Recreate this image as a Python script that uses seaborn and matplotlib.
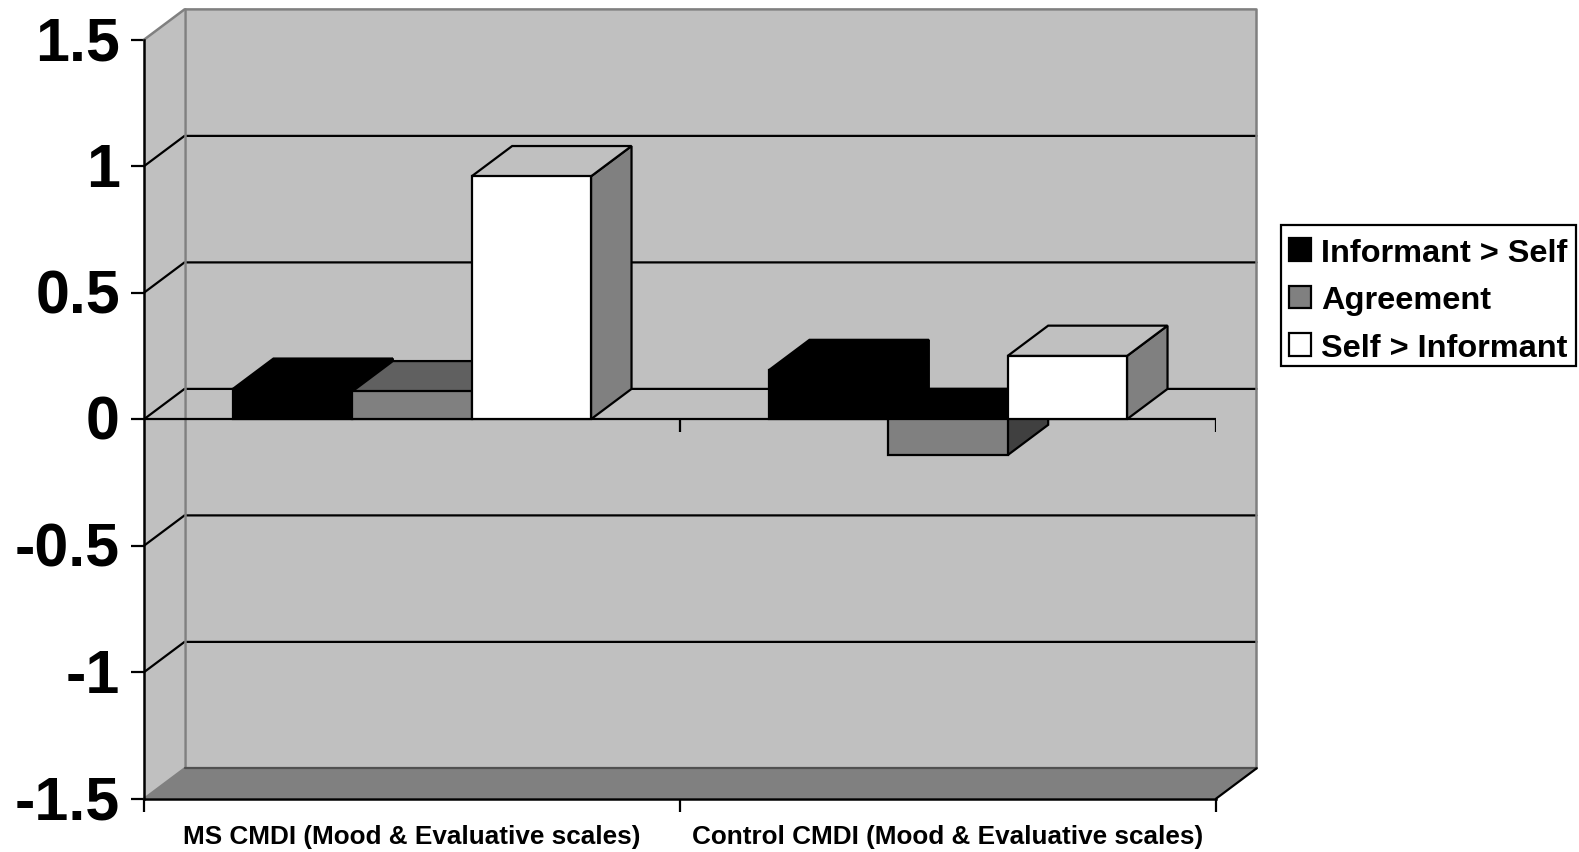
import pandas as pd
import matplotlib
matplotlib.use('Agg')
import matplotlib.pyplot as plt
import matplotlib.patches as mpatches
import matplotlib.transforms as mtransforms
import seaborn as sns

# Values
groups = ['MS CMDI (Mood & Evaluative scales)', 'Control CMDI (Mood & Evaluative scales)']
series = ['Informant > Self', 'Agreement', 'Self > Informant']
informant_self = [0.12, 0.194]
agreement = [0.11, -0.142]
self_informant = [0.96, 0.25]
y_ticks = [1.5, 1, 0.5, 0, -0.5, -1, -1.5]
y_tick_labels = ['1.5', '1', '0.5', '0', '-0.5', '-1', '-1.5']

data = pd.DataFrame({
    'group': groups * 3,
    'series': [s for s in series for _ in groups],
    'value': informant_self + agreement + self_informant,
})

# Style
sns.set_theme(style='white')
plt.rcParams['font.family'] = ['Liberation Sans', 'DejaVu Sans']
plt.rcParams['font.weight'] = 'bold'

WALL = '#c0c0c0'
FLOOR = '#808080'
LW = 1.6
front_colors = ['#000000', '#808080', '#ffffff']
top_colors = ['#000000', '#606060', '#c0c0c0']
side_colors = ['#000000', '#404040', '#808080']

W, H = 1579, 853
fig = plt.figure(figsize=(W / 100, H / 100), dpi=100, facecolor='white')
ax = fig.add_axes([144 / W, 1 - 799.7 / H, (1216 - 144) / W, (799.7 - 40.7) / H])
ax.patch.set_visible(False)

sns.barplot(data=data, x='group', y='value', hue='series', order=groups, hue_order=series,
            palette=front_colors, saturation=1, width=0.668, gap=0, edgecolor='black',
            linewidth=LW, ax=ax, errorbar=None)

x0, x1 = -0.5, 1.5
y0, y1 = -1.5, 1.5
ax.set_xlim(x0, x1)
ax.set_ylim(y0, y1)

# Depth of the fake 3D box, in data units
dx = 40.5 / 536
dy = 30.3 / 253

# Walls and floor
ax.fill([x0 + dx, x1 + dx, x1 + dx, x0 + dx], [y0 + dy, y0 + dy, y1 + dy, y1 + dy],
        color=WALL, lw=0, clip_on=False, zorder=0)
ax.fill([x0, x0 + dx, x0 + dx, x0], [y0, y0 + dy, y1 + dy, y1],
        color=WALL, lw=0, clip_on=False, zorder=0)
ax.fill([x0, x1, x1 + dx, x0 + dx], [y0, y0, y0 + dy, y0 + dy],
        color=FLOOR, lw=0, clip_on=False, zorder=0.5)

# Grid lines on the back and side walls
for y in y_ticks[1:-1]:
    ax.plot([x0, x0 + dx, x1 + dx], [y, y + dy, y + dy], color='black', lw=LW,
            clip_on=False, zorder=1)

# Wall edges
ax.plot([x0, x0 + dx, x1 + dx, x1 + dx], [y1, y1 + dy, y1 + dy, y0 + dy], color=FLOOR,
        lw=LW + 0.2, clip_on=False, zorder=1.2)
ax.plot([x0 + dx, x0 + dx], [y1 + dy, y0 + dy], color=FLOOR, lw=LW + 0.2, clip_on=False, zorder=1.2)
ax.plot([x0, x0 + dx], [y0, y0 + dy], color=FLOOR, lw=LW, clip_on=False, zorder=1.2)
ax.plot([x0 + dx, x1 + dx], [y0 + dy, y0 + dy], color='#505050', lw=LW, clip_on=False, zorder=1.2)
ax.plot([x1, x1 + dx], [y0, y0 + dy], color='black', lw=LW, clip_on=False, zorder=1.2)

# Zero line with its separators
ax.axhline(0, color='black', lw=LW, zorder=3)
ax.vlines([0.5, 1.5], -13 / 253, 0, color='black', lw=LW, zorder=3)

# Top and side faces of each bar, taken from the bars seaborn drew
z = 5
for s, container in enumerate(ax.containers):
    for bar in container:
        left, right = bar.get_x(), bar.get_x() + bar.get_width()
        val = bar.get_y() + bar.get_height()
        top = max(val, 0)
        roof = top_colors[s] if val >= 0 else '#000000'
        side_y = [val, val + dy, dy, 0] if val < 0 else [0, dy, top + dy, top]
        ax.fill([right, right + dx, right + dx, right], side_y,
                facecolor=side_colors[s], edgecolor='black', lw=LW, clip_on=False, zorder=z)
        ax.fill([left, right, right + dx, left + dx], [top, top, top + dy, top + dy],
                facecolor=roof, edgecolor='black', lw=LW, clip_on=False, zorder=z + 1)
        bar.set_zorder(z + 2)
        z += 3

# Axes and ticks
for name in ['top', 'right']:
    ax.spines[name].set_visible(False)
for name in ['left', 'bottom']:
    ax.spines[name].set_visible(True)
    ax.spines[name].set_color('black')
    ax.spines[name].set_linewidth(LW + 0.2)
ax.set_xlabel('')
ax.set_ylabel('')
ax.set_yticks(y_ticks)
ax.set_yticklabels(y_tick_labels, fontsize=43.8, fontweight='bold', color='black')
ax.tick_params(axis='y', left=True, length=9.4, width=LW, pad=7.9, color='black')
# Raise the big tick labels a little, they sit close to their ticks in the original
raise_labels = mtransforms.ScaledTranslation(0, 2.5 / 100, fig.dpi_scale_trans)
for label in ax.get_yticklabels():
    label.set_transform(label.get_transform() + raise_labels)
ax.set_xticks([0, 1])
ax.set_xticklabels(groups, fontsize=18.85, fontweight='bold', color='black')
ax.tick_params(axis='x', which='major', bottom=False, length=0, pad=18.2)
ax.set_xticks([-0.5, 0.5, 1.5], minor=True)
ax.tick_params(axis='x', which='minor', bottom=True, length=9.4, width=LW, color='black')

# Legend, its box drawn apart so the rows can sit low in it as in the original
handles, labels = ax.get_legend_handles_labels()
leg = ax.legend(handles, labels, loc='center', bbox_to_anchor=(1428.5 / W, 1 - 301.5 / H),
                bbox_transform=fig.transFigure, fontsize=23.4, frameon=False,
                handlelength=0.68, handleheight=0.68, handletextpad=0.3, labelspacing=0.54,
                borderpad=0, borderaxespad=0)
leg.set_zorder(100)
for text in leg.get_texts():
    text.set_fontweight('bold')
    text.set_color('black')
fig.add_artist(mpatches.Rectangle((1281 / W, 1 - 366.6 / H), 295 / W, 141 / H, transform=fig.transFigure,
                                  facecolor='none', edgecolor='black', lw=LW))

fig.savefig('out.png', dpi=100)
